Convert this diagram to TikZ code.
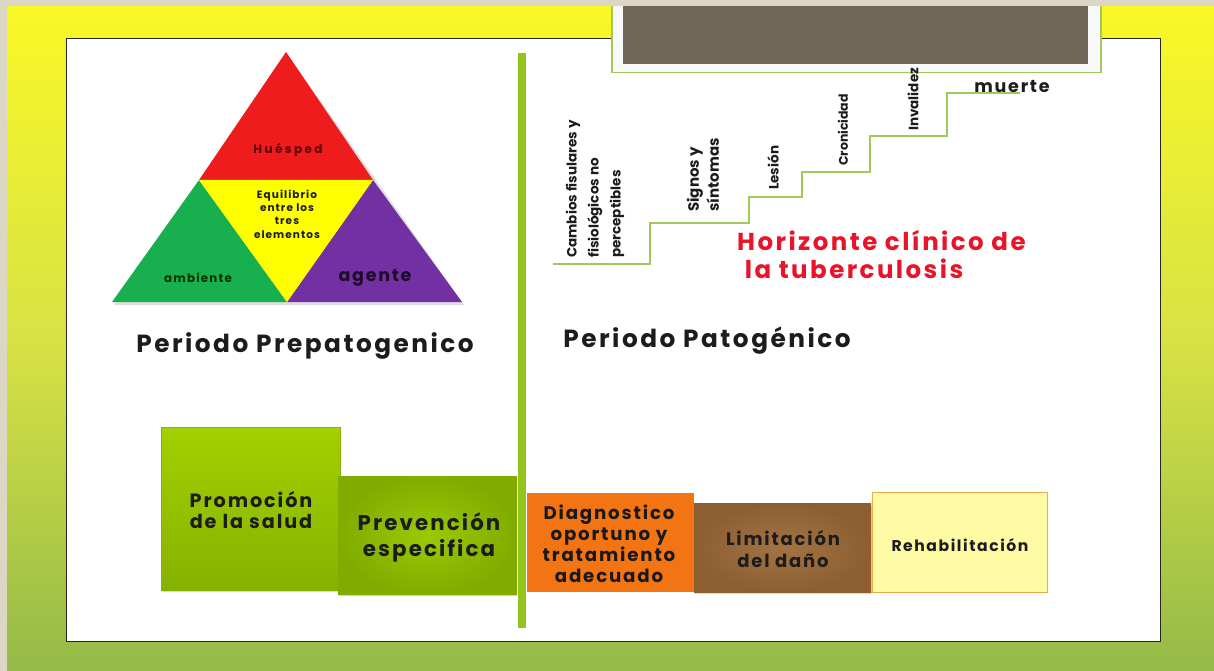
\documentclass[tikz,border=0pt]{standalone}
\usepackage{fontspec}
\setmainfont{Poppins}
\newfontfamily\gsp[LetterSpace=10]{Poppins}
\newfontfamily\gspw[LetterSpace=20]{Poppins}
\usetikzlibrary{shadows}
\definecolor{beige}{HTML}{DCD6C4}
\definecolor{bgtop}{HTML}{FAF826}
\definecolor{bgmid}{HTML}{D8E244}
\definecolor{bgbot}{HTML}{94BA48}
\definecolor{lgreen}{HTML}{A2C85A}
\definecolor{vline}{HTML}{92C41C}
\definecolor{darkbox}{HTML}{706656}
\definecolor{tred}{HTML}{EE1C1C}
\definecolor{tgreen}{HTML}{18B04E}
\definecolor{tpurple}{HTML}{7230A2}
\definecolor{tyellow}{HTML}{FFFF00}
\definecolor{hred}{HTML}{E8142A}
\definecolor{promo}{HTML}{A2D000}
\definecolor{promodk}{HTML}{86B200}
\definecolor{prev}{HTML}{9ACA04}
\definecolor{prevdk}{HTML}{80AC00}
\definecolor{diag}{HTML}{F27412}
\definecolor{limit}{HTML}{A27444}
\definecolor{limitdk}{HTML}{8C5E32}
\definecolor{rehab}{HTML}{FFFAA4}
\definecolor{rehabbd}{HTML}{EAA84A}
\definecolor{txt}{HTML}{1C1C1C}
\tikzset{
  boxtxt/.style={text=txt, align=center, inner sep=0pt},
  trilab/.style={text=txt, align=center, inner sep=0pt},
  stairlab/.style={rotate=90, anchor=west, align=left, text=txt, inner sep=0pt},
  stair/.style={draw=lgreen, line width=1.3pt},
}
\begin{document}
\begin{tikzpicture}[x=1pt,y=1pt]
\useasboundingbox (0,0) rectangle (1214,-671);
% background
\shade[top color=bgtop, bottom color=bgbot, middle color=bgmid] (0,0) rectangle (1214,-671);
% white panel
\node[draw=black!85, line width=1.3pt, fill=white, minimum width=1094pt, minimum height=603pt, inner sep=0pt, anchor=north west] (panel) at (66,-38) {};
% top dark box
\node[draw=lgreen, line width=1.5pt, fill=white!95!gray, minimum width=489pt, minimum height=70pt, inner sep=0pt, anchor=north west] (topframe) at (611,-2) {};
\node[fill=darkbox, minimum width=465pt, minimum height=60pt, inner sep=0pt, anchor=north west] (topbox) at (623,-4) {};
% beige strips
\fill[beige] (0,0) rectangle (1214,-6);
\fill[beige] (0,0) rectangle (7,-671);
% vertical line
\coordinate (vtop) at (521.5,-53);
\coordinate (vbot) at (521.5,-628);
\draw[vline, line width=8pt] (vtop) -- (vbot);

% triangle
\coordinate (A) at (286,-52);
\coordinate (L) at (112,-302);
\coordinate (R) at (462,-302);
\coordinate (ML) at (199,-180);
\coordinate (MR) at (373,-180);
\coordinate (MB) at (287,-302);
\fill[black!25, opacity=0.5] ([shift={(2,-3)}]L) -- ([shift={(2,-3)}]R) -- ([shift={(2,-3)}]A) -- cycle;
\fill[tred] (A) -- (ML) -- (MR) -- cycle;
\fill[tgreen] (ML) -- (L) -- (MB) -- cycle;
\fill[tpurple] (MR) -- (MB) -- (R) -- cycle;
\fill[tyellow] (ML) -- (MR) -- (MB) -- cycle;
\node[trilab, font=\gspw\bfseries\fontsize{12}{12}\selectfont, text=red!35!black] (huesped) at (288,-150) {Huésped};
\node[trilab, font=\gsp\bfseries\fontsize{10.5}{13.3}\selectfont] (equil) at (287,-214) {Equilibrio\\entre los\\tres\\elementos};
\node[trilab, font=\gsp\bfseries\fontsize{11.8}{12}\selectfont, text=green!20!black] (ambiente) at (198,-278) {ambiente};
\node[trilab, font=\gsp\bfseries\fontsize{17.5}{18}\selectfont, text=tpurple!25!black] (agente) at (375,-278) {agente};

% period titles
\node[font=\gsp\bfseries\fontsize{24.8}{26}\selectfont, text=txt, inner sep=0pt] (prepat) at (305,-346) {Periodo Prepatogenico};
\node[font=\gsp\bfseries\fontsize{24.8}{26}\selectfont, text=txt, inner sep=0pt] (pat) at (707,-341) {Periodo Patogénico};

% staircase
\coordinate (s0) at (553,-264);
\coordinate (s1) at (650,-264);
\coordinate (s2) at (650,-223);
\coordinate (s3) at (749,-223);
\coordinate (s4) at (749,-197);
\coordinate (s5) at (802,-197);
\coordinate (s6) at (802,-172);
\coordinate (s7) at (870,-172);
\coordinate (s8) at (870,-136);
\coordinate (s9) at (947,-136);
\coordinate (s10) at (947,-93);
\coordinate (s11) at (1020,-93);
\draw[stair] (s0) -- (s1) -- (s2) -- (s3) -- (s4) -- (s5) -- (s6) -- (s7) -- (s8) -- (s9) -- (s10) -- (s11);

\node[stairlab, font=\bfseries\fontsize{13.5}{22}\selectfont] (cambios) at (595,-258) {Cambios fisulares y\\fisiológicos no\\perceptibles};
\node[stairlab, font=\bfseries\fontsize{15}{20}\selectfont] (signos) at (703,-212) {Signos y\\síntomas};
\node[stairlab, font=\bfseries\fontsize{13.5}{14}\selectfont] (lesion) at (773,-190) {Lesión};
\node[stairlab, font=\bfseries\fontsize{12.5}{14}\selectfont] (cronic) at (843,-166) {Cronicidad};
\node[stairlab, font=\bfseries\fontsize{13.5}{14}\selectfont] (inval) at (913,-131) {Invalidez};
\node[font=\gsp\bfseries\fontsize{17.5}{18}\selectfont, text=txt, inner sep=0pt] (muerte) at (1012,-86) {muerte};

\node[font=\gsp\bfseries\fontsize{24.5}{28}\selectfont, text=hred, align=left, inner sep=0pt, anchor=west] (horiz) at (737,-254) {Horizonte clínico de\\\ la tuberculosis};

% bottom boxes
\node[draw=promodk, line width=0.8pt, top color=promo, bottom color=promodk, minimum width=179pt, minimum height=163pt, inner sep=0pt, anchor=north west, drop shadow={shadow xshift=1pt, shadow yshift=-2pt, opacity=0.3}] (promo) at (161,-427) {};
\node[boxtxt, font=\gsp\bfseries\fontsize{19.2}{21}\selectfont] (promotxt) at (251,-510) {Promoción\\de la salud};
\node[draw=prevdk, line width=0.8pt, inner color=prev, outer color=prevdk, minimum width=178pt, minimum height=118pt, inner sep=0pt, anchor=north west, drop shadow={shadow xshift=1pt, shadow yshift=-2pt, opacity=0.35}] (prev) at (338,-476) {};
\node[boxtxt, font=\gsp\bfseries\fontsize{21.3}{26}\selectfont] (prevtxt) at (429,-537) {Prevención\\especifica};
\node[fill=diag, minimum width=167pt, minimum height=99pt, inner sep=0pt, anchor=north west] (diag) at (527,-493) {};
\node[boxtxt, font=\gsp\bfseries\fontsize{18.2}{21}\selectfont, text=black!90] (diagtxt) at (609,-544) {Diagnostico\\oportuno y\\tratamiento\\adecuado};
\node[inner color=limit, outer color=limitdk, minimum width=177pt, minimum height=89pt, inner sep=0pt, anchor=north west, drop shadow={shadow xshift=1pt, shadow yshift=-2pt, opacity=0.3}] (limit) at (694,-503) {};
\node[boxtxt, font=\gsp\bfseries\fontsize{18}{22}\selectfont] (limittxt) at (783,-549) {Limitación\\del daño};
\node[draw=rehabbd, line width=1pt, fill=rehab, minimum width=175pt, minimum height=100pt, inner sep=0pt, anchor=north west] (rehab) at (872,-492) {};
\node[boxtxt, font=\gsp\bfseries\fontsize{15.6}{16}\selectfont] (rehabtxt) at (960,-545) {Rehabilitación};
\end{tikzpicture}
\end{document}
